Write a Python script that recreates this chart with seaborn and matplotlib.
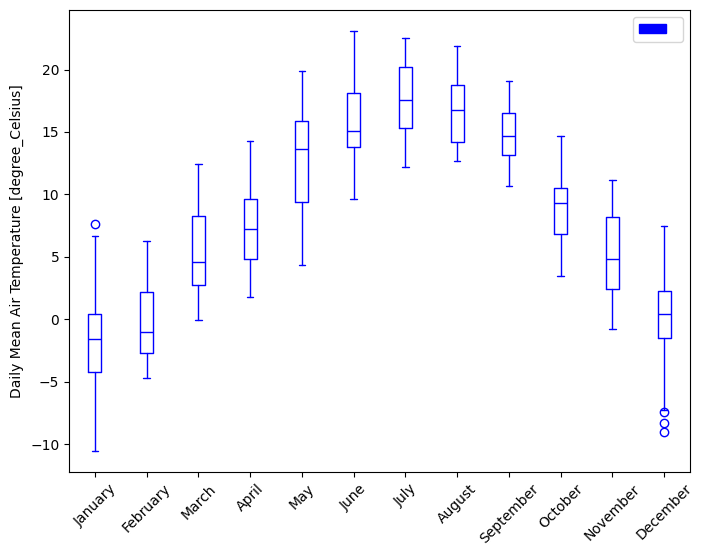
import matplotlib
matplotlib.use("Agg")
import matplotlib.pyplot as plt
import matplotlib.patches as mpatches
import seaborn as sns

# monthly box statistics (degree Celsius)
months = ["January", "February", "March", "April", "May", "June",
          "July", "August", "September", "October", "November", "December"]
whislo = [-10.57, -4.72, -0.07, 1.77, 4.33, 9.62, 12.19, 12.67, 10.66, 3.48, -0.79, -7.25]
q1 = [-4.24, -2.72, 2.73, 4.82, 9.38, 13.81, 15.34, 14.19, 13.15, 6.82, 2.41, -1.51]
med = [-1.60, -1.01, 4.57, 7.22, 13.63, 15.04, 17.58, 16.78, 14.70, 9.33, 4.84, 0.43]
q3 = [0.43, 2.17, 8.31, 9.67, 15.84, 18.09, 20.20, 18.76, 16.51, 10.50, 8.18, 2.25]
whishi = [6.66, 6.28, 12.43, 14.27, 19.88, 23.09, 22.52, 21.88, 19.10, 14.67, 11.15, 7.46]
fliers = [[7.62], [], [], [], [], [], [], [], [], [], [], [-7.39, -8.33, -9.02]]

sns.set_style("ticks", {"axes.edgecolor": "black", "xtick.color": "black",
                        "ytick.color": "black", "text.color": "black",
                        "axes.labelcolor": "black"})
plt.rcParams["font.family"] = ["DejaVu Sans"]

stats = []
for i, m in enumerate(months):
    stats.append({"label": m, "whislo": whislo[i], "q1": q1[i], "med": med[i],
                  "q3": q3[i], "whishi": whishi[i], "fliers": fliers[i]})

fig, ax = plt.subplots(figsize=(7.16, 5.51), dpi=100)
fig.subplots_adjust(left=0.0964, right=0.9637, bottom=0.1434, top=0.9819)

c = "blue"
ax.bxp(stats, positions=range(1, 13), widths=0.25,
       boxprops=dict(color=c), whiskerprops=dict(color=c),
       capprops=dict(color=c), medianprops=dict(color=c),
       flierprops=dict(marker="o", markeredgecolor=c, markerfacecolor="none"))

ax.set_xlim(0.5, 12.5)
ax.set_ylim(-12.23, 24.77)
ax.set_ylabel("Daily Mean Air Temperature [degree_Celsius]")
ax.set_xticks(range(1, 13))
ax.set_xticklabels(months, rotation=45)

ax.legend(handles=[mpatches.Patch(color=c)], labels=[""], loc="upper right")

fig.savefig("out.png", dpi=100)
